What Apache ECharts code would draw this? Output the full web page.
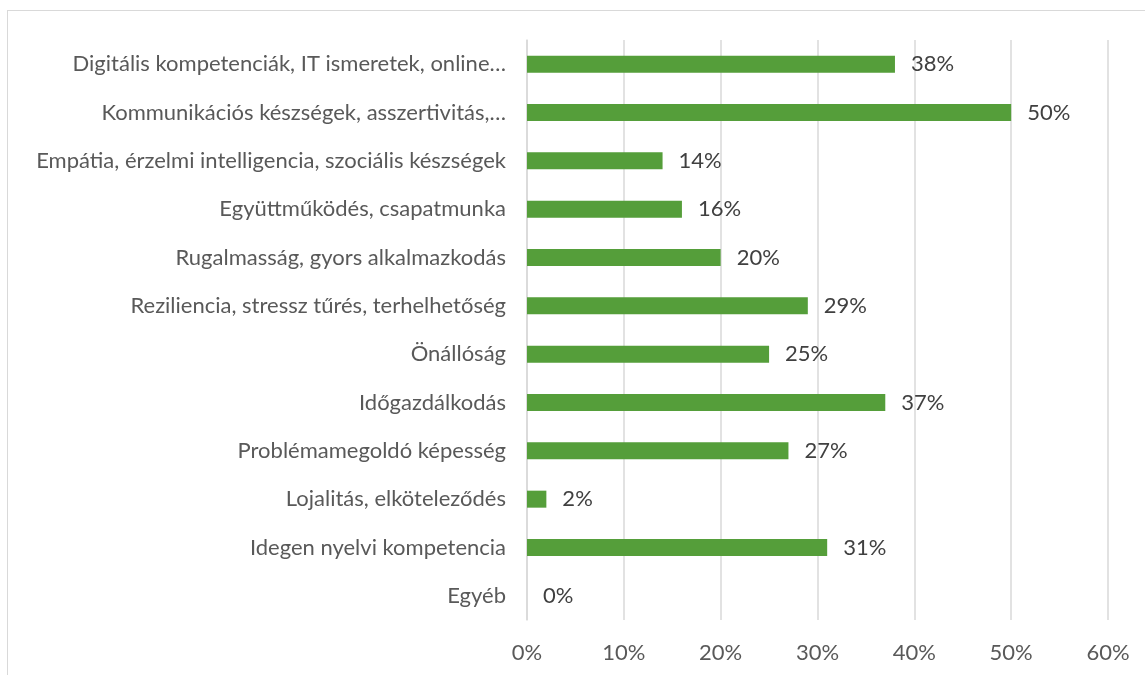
<!DOCTYPE html>
<html>
<head>
<meta charset="utf-8">
<script src="https://cdn.jsdelivr.net/npm/echarts@6/dist/echarts.min.js"></script>
<style>
    html, body { margin: 0; padding: 0; background: #fff; }
    #frame { position: absolute; left: 7px; top: 10px; width: 1200px; height: 700px; border: 1px solid #d9d9d9; box-sizing: border-box; }
    #main { position: absolute; left: 0; top: 0; width: 1145px; height: 675px; }
</style>
</head>
<body>
<div id="frame"></div>
<div id="main"></div>
<script>
'use strict';

// kategóriák (felülről lefelé)
var categories = [
    'Digitális kompetenciák, IT ismeretek, online…',
    'Kommunikációs készségek, asszertivitás,…',
    'Empátia, érzelmi intelligencia, szociális készségek',
    'Együttműködés, csapatmunka',
    'Rugalmasság, gyors alkalmazkodás',
    'Reziliencia, stressz tűrés, terhelhetőség',
    'Önállóság',
    'Időgazdálkodás',
    'Problémamegoldó képesség',
    'Lojalitás, elköteleződés',
    'Idegen nyelvi kompetencia',
    'Egyéb'
];
var values = [38, 50, 14, 16, 20, 29, 25, 37, 27, 2, 31, 0];
var xTicks = [0, 10, 20, 30, 40, 50, 60];

var myChart = echarts.init(document.getElementById('main'));

var option = {
    animation: false,
    textStyle: { fontFamily: 'Lato', color: '#595959' },
    grid: { left: 527, right: 37, top: 40, bottom: 55 },
    xAxis: {
        type: 'value',
        min: xTicks[0],
        max: xTicks[xTicks.length - 1],
        interval: 10,
        axisLine: { show: false },
        axisTick: { show: false },
        splitLine: { lineStyle: { color: '#d9d9d9', width: 1.5 } },
        axisLabel: {
            formatter: '{value}%',
            fontSize: 22,
            color: '#595959',
            margin: 22
        }
    },
    yAxis: {
        type: 'category',
        inverse: true,
        data: categories,
        axisLine: { show: true, lineStyle: { color: '#d9d9d9', width: 1.5 } },
        axisTick: { show: false },
        axisLabel: { fontSize: 22, color: '#595959', margin: 21 }
    },
    series: [{
        type: 'bar',
        data: values,
        barWidth: 17,
        itemStyle: { color: '#559e3a' },
        label: {
            show: true,
            position: 'right',
            distance: 16,
            formatter: '{c}%',
            fontSize: 22,
            color: '#404040'
        }
    }]
};

myChart.setOption(option);
</script>
</body>
</html>
